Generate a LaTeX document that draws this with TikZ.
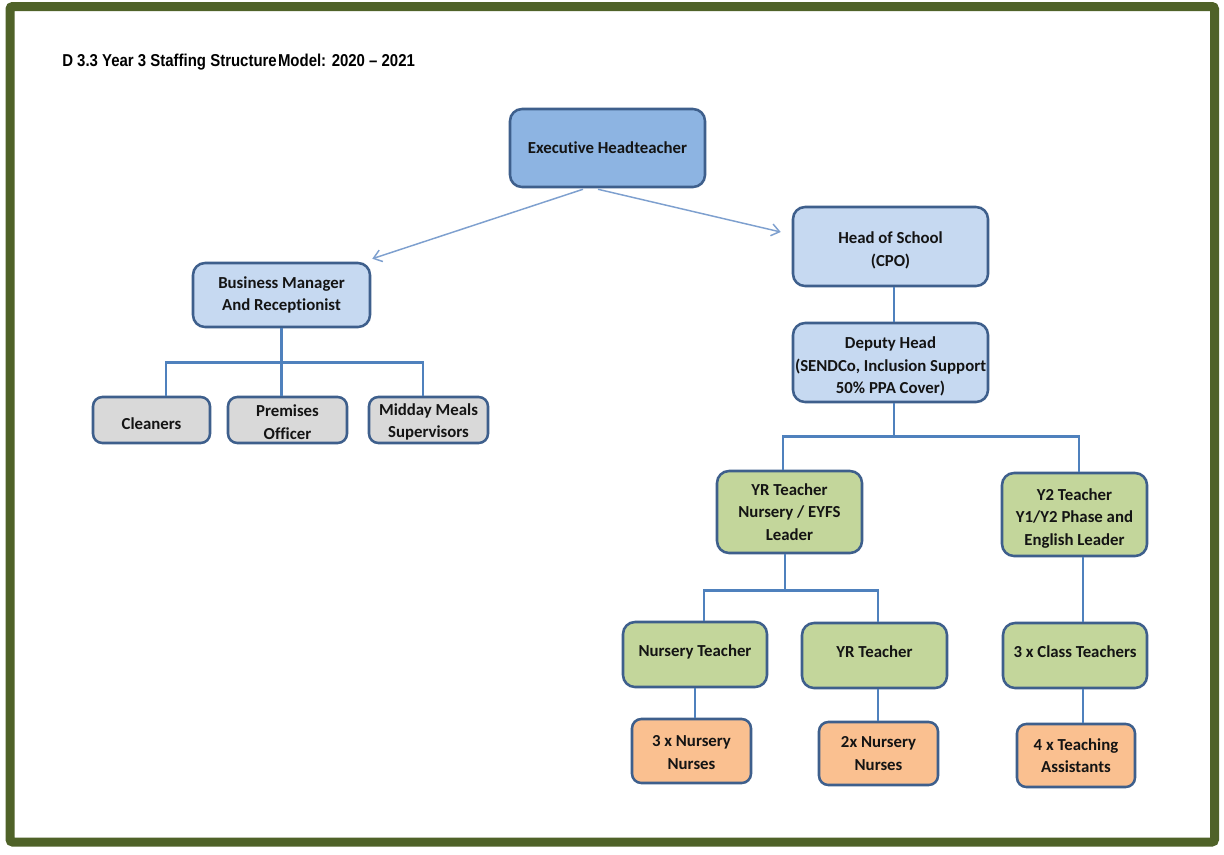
\documentclass[tikz,border=0pt]{standalone}
\usepackage{fontspec}
\usetikzlibrary{arrows.meta,calc}
\newfontfamily\boxfont[RawFeature={-liga;-clig;-calt;-dlig}]{Carlito}
\newfontfamily\titlefont{Liberation Sans}
\definecolor{framegreen}{RGB}{79,98,40}
\definecolor{boxborder}{RGB}{62,95,140}
\definecolor{connblue}{RGB}{79,129,189}
\definecolor{arrowblue}{RGB}{126,160,207}
\definecolor{topblue}{RGB}{141,180,226}
\definecolor{lightblue}{RGB}{198,217,241}
\definecolor{greybox}{RGB}{217,217,217}
\definecolor{greenbox}{RGB}{195,214,155}
\definecolor{orangebox}{RGB}{250,192,144}
\definecolor{inktext}{RGB}{20,20,20}
% draw a line of text a little lower without changing its box
\newcommand\dn[2][3pt]{\raisebox{-#1}[\height][\depth]{#2}}
\tikzset{
  orgbox/.style={draw=boxborder, line width=1.9pt, rounded corners=9pt,
    align=center, inner sep=0pt, text=inktext,
    font=\boxfont\bfseries\fontsize{12.6pt}{16.9pt}\selectfont},
  sz/.style 2 args={minimum width=#1*0.75pt, minimum height=#2*0.75pt},
  exec/.style={orgbox, fill=topblue},
  senior/.style={orgbox, fill=lightblue},
  support/.style={orgbox, fill=greybox, rounded corners=7pt},
  teacher/.style={orgbox, fill=greenbox},
  assist/.style={orgbox, fill=orangebox, rounded corners=7pt},
  conn/.style={draw=connblue, line width=2.2pt},
  arr/.style={draw=arrowblue, line width=1.1pt,
    -{Straight Barb[length=6pt,width=9pt,line width=1.1pt]}},
  frame/.style={draw=framegreen, line width=6.75pt, rounded corners=2pt}
}
\begin{document}
\begin{tikzpicture}[x=0.75pt,y=-0.75pt]
\useasboundingbox (0,0) rectangle (1224,854);
\fill[white] (0,0) rectangle (1224,854);
\draw[frame] (10,6.5) rectangle (1214.5,842);

% title
\node[anchor=base west, inner sep=0pt, text=black] (title) at (62,66)
  {\scalebox{0.87}[1]{\titlefont\bfseries\fontsize{12.9pt}{15pt}\selectfont D 3.3 Year 3 Staffing Structure\hspace{0.08em}Model: 2020 – 2021}};

% leadership
\node[exec, sz={195}{78}] (eh) at (607.5,148) {Executive Headteacher};
\node[senior, sz={195}{79}] (hos) at (890.5,246.5) {\dn{Head of School}\\\dn{(CPO)}};
\node[senior, sz={195}{79}] (dep) at (890.5,362.5) {\dn{Deputy Head}\\\dn{(SENDCo, Inclusion Support}\\\dn{50\% PPA Cover)}};

% business side
\node[senior, sz={177}{64}] (bm) at (281.5,295) {Business Manager\\And Receptionist};
\node[support, sz={117}{46}] (cl) at (151.5,420) {\dn{Cleaners}};
\node[support, sz={119}{46}] (po) at (287.5,420) {\dn[1.5pt]{Premises}\\\dn[1.5pt]{Officer}};
\node[support, sz={119}{46}] (mm) at (428.5,420) {\dn[1.5pt]{Midday Meals}\\\dn[1.5pt]{Supervisors}};

% teaching side
\node[teacher, sz={145}{82}] (yrl) at (789.5,512) {YR Teacher\\Nursery / EYFS\\Leader};
\node[teacher, sz={145}{83}] (y2) at (1074.5,514.5) {\dn{Y2 Teacher}\\\dn{Y1/Y2 Phase and}\\\dn{English Leader}};
\node[teacher, sz={144}{65}, text depth=6pt] (nt) at (695,654.5) {Nursery Teacher};
\node[teacher, sz={145}{65}, text depth=6pt] (yrt) at (874.5,655.5) {YR Teacher};
\node[teacher, sz={144}{65}, text depth=6pt] (ct) at (1075,655.5) {3 x Class Teachers};
\node[assist, sz={119}{64}] (nn3) at (691.5,751) {\dn[1.2pt]{3 x Nursery}\\\dn[1.2pt]{Nurses}};
\node[assist, sz={119}{63}] (nn2) at (878.5,753.5) {2x Nursery\\Nurses};
\node[assist, sz={118}{63}] (ta) at (1076,755.5) {4 x Teaching\\Assistants};

% reporting arrows from the executive headteacher
\draw[arr] ($(eh.south)+(-24.5,1)$) -- ($(bm.north east)+(1,-3)$);
\draw[arr] ($(eh.south)+(-9.5,1)$) -- ($(hos.west)+(-11,-14.5)$);

% business manager branch
\coordinate (bmj) at ($(bm.south)+(0,34)$);
\draw[conn] (bm.south) -- (bmj);
\draw[conn] (bmj) -| ($(cl.north)+(14.5,0)$);
\draw[conn] (bmj) -| ($(mm.north)+(-5.5,0)$);
\draw[conn] (bmj) -- (bmj |- po.north);

% head of school to deputy
\draw[conn] ($(hos.south)+(3.5,0)$) -- ($(dep.north)+(3.5,0)$);

% deputy branch
\coordinate (dj) at ($(dep.south)+(3.5,33)$);
\draw[conn] ($(dep.south)+(3.5,0)$) -- (dj);
\draw[conn] (dj) -| ($(yrl.north)+(-6.5,0)$);
\draw[conn] (dj) -| ($(y2.north)+(4.5,0)$);

% early years branch
\coordinate (yj) at ($(yrl.south)+(-4.5,36)$);
\draw[conn] ($(yrl.south)+(-4.5,0)$) -- (yj);
\draw[conn] (yj) -| ($(nt.north)+(9,0)$);
\draw[conn] (yj) -| ($(yrt.north)+(3.5,0)$);

% key stage one branch
\draw[conn] ($(y2.south)+(8.5,0)$) -- ($(ct.north)+(8,0)$);

% support staff
\draw[conn] (nt.south) -- (nt.south |- nn3.north);
\draw[conn] ($(yrt.south)+(3.5,0)$) -- ($(nn2.north)+(-0.5,0)$);
\draw[conn] ($(ct.south)+(8,0)$) -- ($(ta.north)+(7,0)$);
\end{tikzpicture}
\end{document}
